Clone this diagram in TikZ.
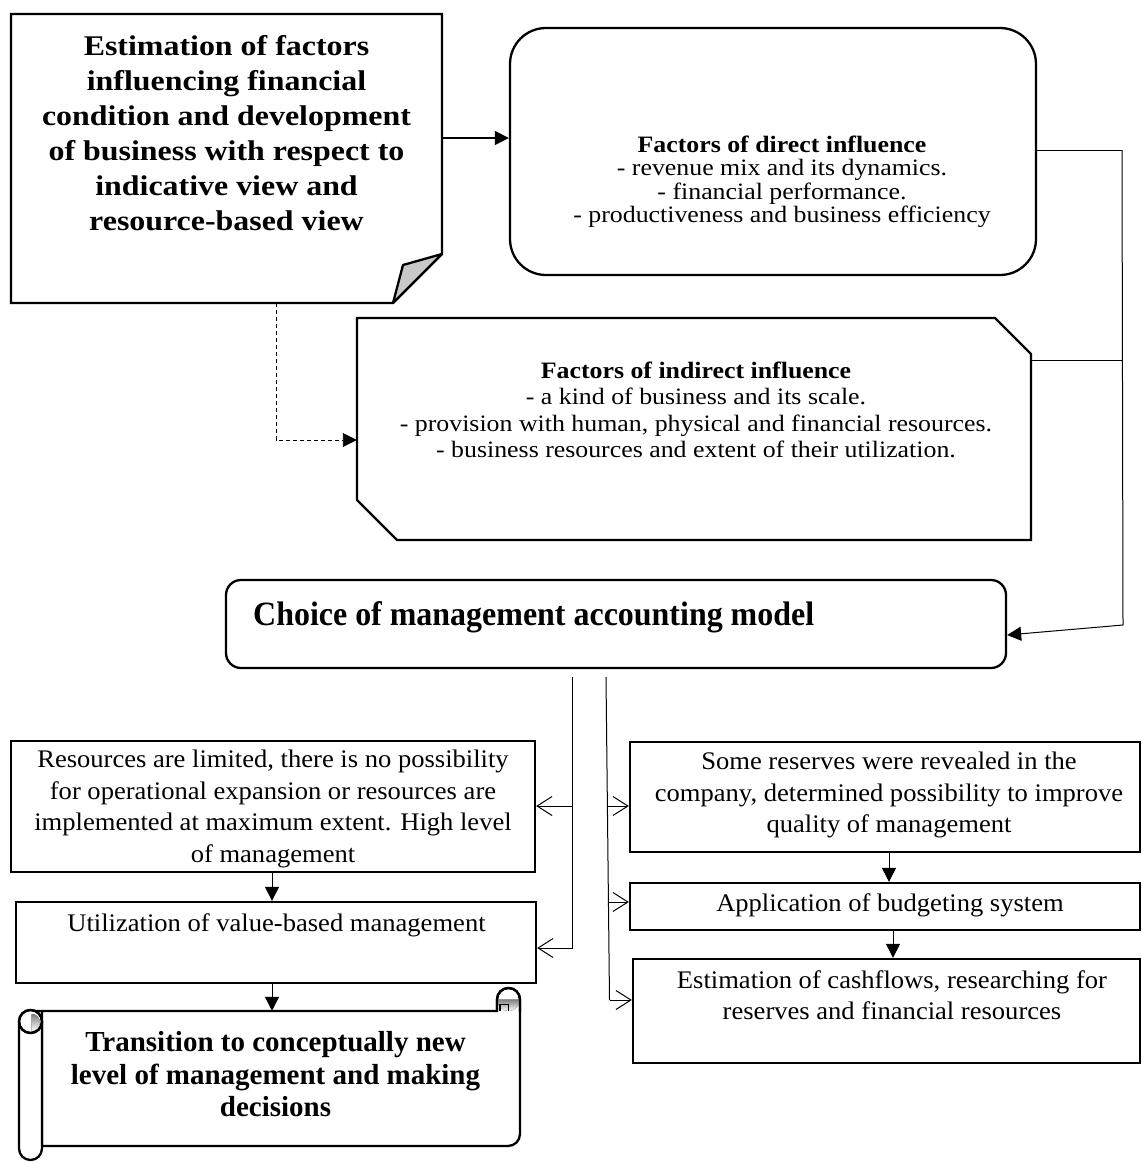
\documentclass[tikz,border=0pt]{standalone}
\usepackage{fontspec}
\setmainfont{Liberation Serif}
\newfontfamily\headfont[FakeStretch=1.12]{Liberation Serif}
\newfontfamily\factfont[FakeStretch=1.1]{Liberation Serif}
\newfontfamily\bodyfont[FakeStretch=1.05]{Liberation Serif}
\newfontfamily\narrowfont[FakeStretch=0.94]{Liberation Serif}
\usetikzlibrary{arrows.meta}
\definecolor{shade}{RGB}{200,200,200}
\begin{document}
\begin{tikzpicture}[x=1pt,y=-1pt,
  boxline/.style={line width=2.3pt},
  plainbox/.style={draw, boxline, rectangle, inner sep=0pt},
  frame/.style={rectangle, inner sep=0pt},
  conn/.style={line width=1pt},
  dashconn/.style={line width=0.9pt, dash pattern=on 4pt off 3pt},
  solidtip/.style={-{Triangle[length=14pt,width=14pt]}},
  opentip/.style={-{Straight Barb[length=15pt,width=19pt]}},
  bodytext/.style={align=center, inner sep=0pt, font=\bodyfont\fontsize{25.3}{31.5}\selectfont},
  factext/.style={align=center, inner sep=0pt},
]
\useasboundingbox (0,0) rectangle (1142,1162);

% ---------- shapes ----------
% note with folded corner
\draw[boxline, fill=white] (11,14) -- (442,14) -- (442,254) -- (393,303) -- (11,303) -- cycle;
\draw[boxline, fill=shade, line join=round] (442,254) -- (403,265) -- (393,303) -- cycle;
\node[frame, minimum width=431pt, minimum height=289pt] (est) at (226.5,158.5) {};

% rounded box: direct influence
\node[plainbox, rounded corners=36pt, minimum width=526pt, minimum height=247pt] (dir) at (773,151.5) {};

% cut-corner box: indirect influence
\draw[boxline, fill=white] (357,318) -- (995,318) -- (1031,354) -- (1031,540) -- (397,540) -- (357,500) -- cycle;
\node[frame, minimum width=674pt, minimum height=222pt] (ind) at (694,429) {};

% choice box
\node[plainbox, rounded corners=15pt, minimum width=780pt, minimum height=88pt] (choice) at (616,624) {};

% left column
\node[plainbox, minimum width=524pt, minimum height=131pt] (res) at (273,806.5) {};
\node[plainbox, minimum width=520pt, minimum height=81pt] (util) at (276,942.5) {};

% right column
\node[plainbox, minimum width=510pt, minimum height=110pt] (rtop) at (885,797) {};
\node[plainbox, minimum width=510pt, minimum height=47pt] (budget) at (885,906.5) {};
\node[plainbox, minimum width=507pt, minimum height=104pt] (cash) at (886.5,1011) {};

% scroll
\draw[boxline, fill=white] (30.5,1011) -- (497,1011) -- (497,999.5)
  arc[start angle=180, end angle=360, radius=11.5] -- (520,1134)
  arc[start angle=0, end angle=90, radius=12] -- (42,1146) -- (42,1011) -- cycle;
\fill[shade] (497,999.5) arc[start angle=180, end angle=0, radius=11.5] -- cycle;
\draw[line width=1.6pt] (500,1011) -- (500,1004.5) -- (508.5,1004.5) -- (508.5,1011);
\draw[boxline] (497,1011) -- (497,999.5) arc[start angle=180, end angle=360, radius=11.5] -- (520,1012);
\draw[boxline, fill=white] (19,1021.5) -- (19,1148.5)
  arc[start angle=180, end angle=0, radius=11.5] -- (42,1021.5);
\draw[boxline, fill=white] (30.5,1021.5) circle[radius=11.5];
\fill[shade] (31.5,1014) arc[start angle=270, end angle=450, radius=8.5] -- cycle;
\draw[boxline] (30.5,1021.5) circle[radius=11.5];
\node[frame, minimum width=478pt, minimum height=135pt] (scroll) at (281,1078.5) {};

% ---------- texts ----------
\node[factext, font=\headfont\bfseries\fontsize{28.5}{35}\selectfont] (estT) at (226.5,133.5)
  {Estimation of factors\\influencing financial\\condition and development\\of business with respect to\\indicative view and\\resource-based view};
\node[factext, font=\factfont\fontsize{23.5}{23.5}\selectfont] (dirT) at (782,182)
  {\textbf{Factors of direct influence}\\- revenue mix and its dynamics.\\- financial performance.\\- productiveness and business efficiency};
\node[factext, font=\factfont\fontsize{23.5}{26.3}\selectfont] (indT) at (696,410)
  {\textbf{Factors of indirect influence}\\- a kind of business and its scale.\\- provision with human, physical and financial resources.\\- business resources and extent of their utilization.};
\node[inner sep=0pt, anchor=base west, font=\narrowfont\bfseries\fontsize{34}{38}\selectfont] (choiceT) at (253,625)
  {Choice of management accounting model};
\node[bodytext] (resT) at (273,809)
  {Resources are limited, there is no possibility\\for operational expansion or resources are\\implemented at maximum extent. High level\\of management};
\node[bodytext] (utilT) at (276.5,925) {Utilization of value-based management};
\node[bodytext] (rtopT) at (889,795)
  {Some reserves were revealed in the\\company, determined possibility to improve\\quality of management};
\node[bodytext] (budT) at (890,905) {Application of budgeting system};
\node[bodytext] (cashT) at (892,995)
  {Estimation of cashflows, researching for\\reserves and financial resources};
\node[factext, font=\bfseries\fontsize{29}{32.5}\selectfont] (transT) at (275.5,1074.5)
  {Transition to conceptually new\\level of management and making\\decisions};

% ---------- connectors ----------
\draw[conn, solidtip, line width=1.3pt] ([yshift=20.5pt]est.east) -- ([yshift=20.5pt]est.east -| dir.west);
\draw[dashconn, solidtip] ([xshift=49.5pt]est.south) |- ([yshift=-11pt]ind.west);

\coordinate (j1) at (1122,150);
\coordinate (j2) at (1122,360);
\coordinate (j3) at (1123,625);
\draw[conn] (dir.east |- j1) -- (j1);
\draw[conn] (ind.east |- j2) -- (j2);
\draw[conn, solidtip] (j1) -- (j3) -- ([yshift=-11pt]choice.east);

% left trunk
\coordinate (lt0) at (572,677);
\coordinate (lt1) at (572,806);
\coordinate (lt2) at (572,948);
\draw[conn, opentip] (lt0) -- (lt2) -- (util.east |- lt2);
\draw[conn, opentip] (lt1) -- (res.east |- lt1);

% right trunk
\coordinate (rt0) at (606,677);
\coordinate (rb1) at (607.3,806);
\coordinate (rb2) at (608.4,902);
\coordinate (rb3) at (609.5,1000);
\draw[conn] (rt0) -- (rb3);
\draw[conn, opentip] (rb1) -- (rtop.west |- rb1);
\draw[conn, opentip] (rb2) -- (budget.west |- rb2);
\draw[conn, opentip] (rb3) -- (cash.west |- rb3);

% vertical flow arrows
\draw[conn, solidtip] (res.south -| 272,0) -- (util.north -| 272,0);
\draw[conn, solidtip] (util.south -| 272,0) -- (scroll.north -| 272,0);
\draw[conn, solidtip] (rtop.south -| 889,0) -- (budget.north -| 889,0);
\draw[conn, solidtip] (budget.south -| 893,0) -- (cash.north -| 893,0);
\end{tikzpicture}
\end{document}
